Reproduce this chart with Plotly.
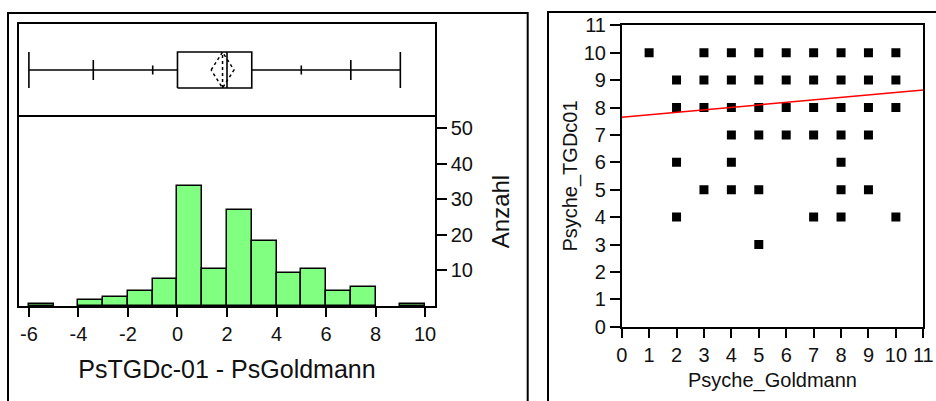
import plotly.graph_objects as go

# ---- Histogram of PsTGDc-01 - PsGoldmann (bins of width 1, left edges) ----
bin_left = [-6, -5, -4, -3, -2, -1, 0, 1, 2, 3, 4, 5, 6, 7, 8, 9]
bin_count = [0.5, 0, 1.7, 2.6, 4.3, 7.7, 33.7, 10.5, 26.9, 18.3, 9.4, 10.5, 4.2, 5.4, 0, 0.5]
hist_xticks = [-6, -4, -2, 0, 2, 4, 6, 8, 10]
hist_yticks = [10, 20, 30, 40, 50]

# ---- Quantile box plot summary ----
q_min, q_025, q_10, q_25 = -6, -3.4, -1, 0
q_50, q_75, q_90, q_975, q_max = 2, 3, 5, 7, 9
mean_val, ci_low, ci_high = 1.82, 1.36, 2.28

# ---- Scatter: Psyche_Goldmann vs Psyche_TGDc01 ----
goldmann = [1, 3, 4, 5, 6, 7, 8, 9, 10,
            2, 3, 4, 5, 6, 7, 8, 9, 10,
            2, 3, 4, 5, 6, 7, 8, 9, 10,
            4, 5, 6, 7, 8, 9,
            2, 4, 8,
            3, 4, 5, 8, 9,
            2, 7, 8, 10,
            5]
tgdc01 = [10] * 9 + [9] * 9 + [8] * 9 + [7] * 6 + [6] * 3 + [5] * 5 + [4] * 4 + [3]
scatter_ticks = list(range(0, 12))
fit_intercept = 7.64
fit_slope = 0.091

W, H = 936, 401
FONT = "Liberation Sans"
INK = "#111111"


def px_x(p):
    return p / W


def px_y(p):
    return 1 - p / H


fig = go.Figure()

# histogram bars
centers = [b + 0.5 for b, c in zip(bin_left, bin_count) if c > 0]
counts = [c for c in bin_count if c > 0]
fig.add_trace(go.Bar(
    x=centers, y=counts, width=1,
    marker=dict(color="#80ff80", line=dict(color="black", width=1.5)),
    xaxis="x", yaxis="y", showlegend=False, hoverinfo="skip"))

# box plot (drawn in its own panel above the histogram)
yc, h_full, h_mid, h_small = 47, 18, 10, 4.5
bx, by = [], []


def seg(x0, y0, x1, y1):
    bx.extend([x0, x1, None])
    by.extend([y0, y1, None])


seg(q_min, yc, q_25, yc)
seg(q_75, yc, q_max, yc)
for q, h in [(q_min, h_full), (q_max, h_full), (q_025, h_mid), (q_975, h_mid),
             (q_10, h_small), (q_90, h_small), (q_50, h_full)]:
    seg(q, yc - h, q, yc + h)
bx.extend([q_25, q_75, q_75, q_25, q_25, None])
by.extend([yc - h_full, yc - h_full, yc + h_full, yc + h_full, yc - h_full, None])
fig.add_trace(go.Scatter(x=bx, y=by, mode="lines",
                         line=dict(color="black", width=1.6),
                         xaxis="x2", yaxis="y2", showlegend=False, hoverinfo="skip"))

# mean diamond
fig.add_trace(go.Scatter(
    x=[ci_low, mean_val, ci_high, mean_val, ci_low, None, mean_val, mean_val],
    y=[yc, yc + h_full, yc, yc - h_full, yc, None, yc - h_full, yc + h_full],
    mode="lines", line=dict(color="black", width=1.5, dash="dot"),
    xaxis="x2", yaxis="y2", showlegend=False, hoverinfo="skip"))

# scatter points
fig.add_trace(go.Scatter(
    x=goldmann, y=tgdc01, mode="markers",
    marker=dict(symbol="square", size=9, color="black"),
    xaxis="x3", yaxis="y3", showlegend=False, hoverinfo="skip"))

# linear fit
fx = [0, 11]
fig.add_trace(go.Scatter(
    x=fx, y=[fit_intercept + fit_slope * v for v in fx], mode="lines",
    line=dict(color="red", width=1.5),
    xaxis="x3", yaxis="y3", showlegend=False, hoverinfo="skip"))

frame = dict(showline=True, linecolor="black", linewidth=1.5, mirror=True,
             showgrid=False, zeroline=False, automargin=False)
tickfont = dict(family=FONT, size=20, color=INK)


def labels(vals):
    # plain hyphen-minus for negative numbers
    return [str(v) for v in vals]


fig.update_layout(
    width=W, height=H,
    margin=dict(l=0, r=0, t=0, b=0),
    paper_bgcolor="white", plot_bgcolor="white",
    font=dict(family=FONT, color=INK),
    bargap=0,
    xaxis=dict(domain=[px_x(19), px_x(435)], range=[-6.4, 10.4],
               tickvals=hist_xticks, ticktext=labels(hist_xticks),
               ticks="outside", ticklen=9,
               tickwidth=1.5, tickcolor="black", tickfont=tickfont,
               title=dict(text="PsTGDc-01 - PsGoldmann",
                          font=dict(family=FONT, size=25, color=INK), standoff=17),
               anchor="y", **frame),
    yaxis=dict(domain=[px_y(306), px_y(117)], range=[0, 53.1], side="right",
               tickvals=hist_yticks, ticktext=labels(hist_yticks),
               ticks="outside", ticklen=10,
               tickwidth=1.5, tickcolor="black", tickfont=tickfont,
               title=dict(text="Anzahl", font=dict(family=FONT, size=24, color=INK),
                          standoff=20),
               anchor="x", **frame),
    xaxis2=dict(domain=[px_x(19), px_x(435)], range=[-6.4, 10.4], side="top",
                showticklabels=False, ticks="", anchor="y2",
                showline=True, linecolor="black", linewidth=1.5, mirror=False,
                showgrid=False, zeroline=False, automargin=False),
    yaxis2=dict(domain=[px_y(117), px_y(24)], range=[0, 93],
                showticklabels=False, ticks="", anchor="x2", **frame),
    xaxis3=dict(domain=[px_x(621.7), px_x(923.3)], range=[0, 11],
                tickvals=scatter_ticks, ticktext=labels(scatter_ticks),
                ticks="outside", ticklen=10, tickwidth=1.5, tickcolor="black",
                tickfont=tickfont,
                title=dict(text="Psyche_Goldmann",
                           font=dict(family=FONT, size=20, color=INK), standoff=8),
                anchor="y3", **frame),
    yaxis3=dict(domain=[px_y(326.7), px_y(25.3)], range=[0, 11],
                tickvals=scatter_ticks, ticktext=labels(scatter_ticks),
                ticks="outside", ticklen=10, tickwidth=1.5, tickcolor="black",
                tickfont=tickfont,
                title=dict(text="Psyche_TGDc01",
                           font=dict(family=FONT, size=20, color=INK), standoff=1),
                anchor="x3", **frame),
    shapes=[
        dict(type="rect", xref="paper", yref="paper",
             x0=px_x(8), x1=px_x(527.7), y0=-0.2, y1=px_y(13),
             line=dict(color="black", width=2), layer="below"),
        dict(type="rect", xref="paper", yref="paper",
             x0=px_x(548), x1=1.2, y0=-0.2, y1=px_y(12),
             line=dict(color="black", width=2), layer="below"),
    ],
)

fig.write_html("out.html")
